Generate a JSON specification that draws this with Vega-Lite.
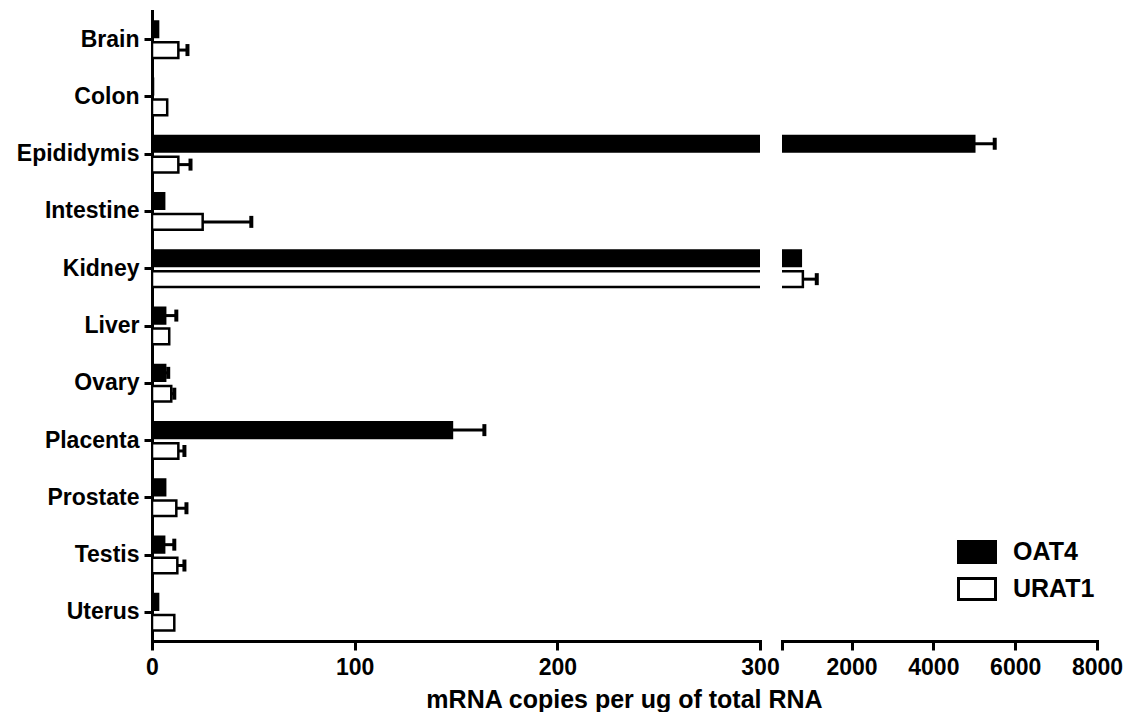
{
  "$schema": "https://vega.github.io/schema/vega-lite/v6.json",
  "background": "white",
  "padding": {"left": 5, "top": 11, "right": 5, "bottom": 0},
  "bounds": "flush",
  "spacing": 22,
  "data": {"values": [
    {"tissue": "Brain", "series": "OAT4", "value": 3, "upper": null},
    {"tissue": "Brain", "series": "URAT1", "value": 13, "upper": 17.5},
    {"tissue": "Colon", "series": "OAT4", "value": 0.5, "upper": null},
    {"tissue": "Colon", "series": "URAT1", "value": 7.5, "upper": null},
    {"tissue": "Epididymis", "series": "OAT4", "value": 5000, "upper": 5500},
    {"tissue": "Epididymis", "series": "URAT1", "value": 13, "upper": 19},
    {"tissue": "Intestine", "series": "OAT4", "value": 6, "upper": null},
    {"tissue": "Intestine", "series": "URAT1", "value": 25, "upper": 49},
    {"tissue": "Kidney", "series": "OAT4", "value": 760, "upper": null},
    {"tissue": "Kidney", "series": "URAT1", "value": 810, "upper": 1150},
    {"tissue": "Liver", "series": "OAT4", "value": 6.5, "upper": 12},
    {"tissue": "Liver", "series": "URAT1", "value": 8.5, "upper": null},
    {"tissue": "Ovary", "series": "OAT4", "value": 6.5, "upper": 8},
    {"tissue": "Ovary", "series": "URAT1", "value": 9.5, "upper": 11},
    {"tissue": "Placenta", "series": "OAT4", "value": 148, "upper": 164},
    {"tissue": "Placenta", "series": "URAT1", "value": 13, "upper": 16},
    {"tissue": "Prostate", "series": "OAT4", "value": 6.5, "upper": null},
    {"tissue": "Prostate", "series": "URAT1", "value": 12, "upper": 17},
    {"tissue": "Testis", "series": "OAT4", "value": 6, "upper": 11},
    {"tissue": "Testis", "series": "URAT1", "value": 12.5, "upper": 16},
    {"tissue": "Uterus", "series": "OAT4", "value": 3, "upper": null},
    {"tissue": "Uterus", "series": "URAT1", "value": 11, "upper": null}
  ]},
  "hconcat": [
    {
      "width": 608,
      "height": 630,
      "encoding": {
        "y": {"field": "tissue", "type": "nominal", "sort": null, "title": null,
          "scale": {"paddingInner": 0.363, "paddingOuter": 0.1815},
          "axis": {"tickSize": 8, "labelPadding": 5, "minExtent": 147, "maxExtent": 147}},
        "yOffset": {"field": "series", "type": "nominal", "sort": ["OAT4", "URAT1"], "scale": {"paddingInner": 0.25}}
      },
      "layer": [
        {
          "mark": {"type": "bar", "clip": true, "stroke": "black", "strokeWidth": 2.5},
          "encoding": {
            "x": {"field": "value", "type": "quantitative",
              "scale": {"domain": [0, 300], "nice": false, "zero": false},
              "axis": {"values": [0, 100, 200, 300], "labelFlush": false, "tickSize": 9, "labelPadding": 6,
                "title": "mRNA copies per ug of total RNA", "titleX": 472, "titleY": 66,
                "titleAlign": "center", "titleBaseline": "alphabetic", "titleAnchor": null}},
            "x2": {"datum": 0},
            "fill": {"field": "series", "type": "nominal", "title": null,
              "scale": {"domain": ["OAT4", "URAT1"], "range": ["black", "white"]}}
          }
        },
        {
          "transform": [{"filter": "isValid(datum.upper)"}],
          "mark": {"type": "rule", "clip": true, "color": "black", "strokeWidth": 3},
          "encoding": {
            "x": {"field": "value", "type": "quantitative"},
            "x2": {"field": "upper"}
          }
        },
        {
          "transform": [{"filter": "isValid(datum.upper)"}],
          "mark": {"type": "tick", "clip": true, "color": "black", "size": 12, "thickness": 4, "opacity": 1},
          "encoding": {
            "x": {"field": "upper", "type": "quantitative"}
          }
        }
      ]
    },
    {
      "width": 315,
      "height": 630,
      "encoding": {
        "y": {"field": "tissue", "type": "nominal", "sort": null, "title": null, "axis": null},
        "yOffset": {"field": "series", "type": "nominal", "sort": ["OAT4", "URAT1"], "scale": {"paddingInner": 0.25}}
      },
      "layer": [
        {
          "mark": {"type": "bar", "clip": true, "stroke": "black", "strokeWidth": 2.5},
          "encoding": {
            "x": {"field": "value", "type": "quantitative",
              "scale": {"domain": [300, 8000], "nice": false, "zero": false},
              "axis": {"values": [300, 2000, 4000, 6000, 8000], "labelFlush": false, "tickSize": 9, "labelPadding": 6,
                "labelExpr": "datum.value == 300 ? '' : datum.value", "title": null}},
            "x2": {"datum": 0},
            "fill": {"field": "series", "type": "nominal", "title": null,
              "scale": {"domain": ["OAT4", "URAT1"], "range": ["black", "white"]}}
          }
        },
        {
          "transform": [{"filter": "isValid(datum.upper)"}],
          "mark": {"type": "rule", "clip": true, "color": "black", "strokeWidth": 3},
          "encoding": {
            "x": {"field": "value", "type": "quantitative"},
            "x2": {"field": "upper"}
          }
        },
        {
          "transform": [{"filter": "isValid(datum.upper)"}],
          "mark": {"type": "tick", "clip": true, "color": "black", "size": 12, "thickness": 4, "opacity": 1},
          "encoding": {
            "x": {"field": "upper", "type": "quantitative"}
          }
        }
      ]
    }
  ],
  "resolve": {"scale": {"x": "independent", "y": "shared", "fill": "shared", "yOffset": "shared"}},
  "config": {
    "view": {"stroke": null},
    "font": "Liberation Sans",
    "axis": {
      "grid": false,
      "domainColor": "black", "domainWidth": 3, "domainCap": "square",
      "tickColor": "black", "tickWidth": 3,
      "labelColor": "black", "labelFont": "Liberation Sans", "labelFontWeight": "bold", "labelFontSize": 23,
      "titleColor": "black", "titleFont": "Liberation Sans", "titleFontWeight": "bold", "titleFontSize": 25
    },
    "legend": {
      "orient": "none", "legendX": 805, "legendY": 521, "padding": 0,
      "symbolType": "M-1,-0.57H1V0.57H-1Z", "symbolSize": 1369,
      "symbolStrokeColor": "black", "symbolStrokeWidth": 3, "symbolOpacity": 1,
      "labelFont": "Liberation Sans", "labelFontWeight": "bold", "labelFontSize": 25, "labelColor": "black",
      "labelOffset": 16, "rowPadding": 0
    }
  }
}
